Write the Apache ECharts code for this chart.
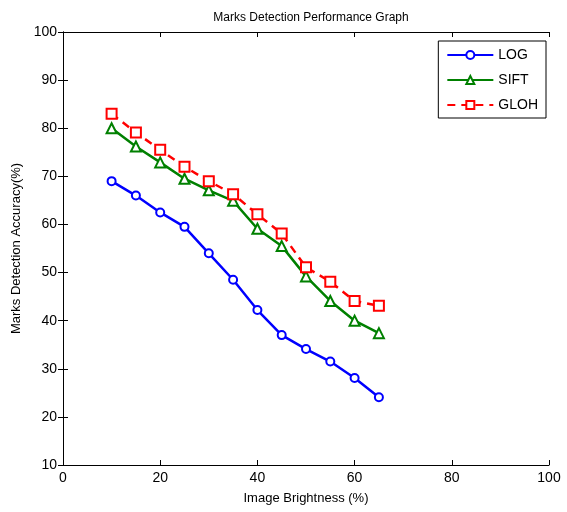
<!DOCTYPE html>
<html><head><meta charset="utf-8">
<script src="https://cdn.jsdelivr.net/npm/echarts@6/dist/echarts.min.js"></script>
<style>html,body{margin:0;padding:0;background:#fff}#c{width:567px;height:512px}</style>
</head><body><div id="c"></div>
<script>
const brightness = [10, 15, 20, 25, 30, 35, 40, 45, 50, 55, 60, 65];
const logVals  = [69, 66, 62.5, 59.5, 54, 48.5, 42.2, 37, 34.1, 31.5, 28.1, 24.1];
const siftVals = [80, 76.2, 72.9, 69.5, 67.1, 64.9, 59.1, 55.5, 49.2, 44.1, 40, 37.4];
const glohVals = [83, 79.1, 75.5, 72, 69, 66.3, 62.1, 58.1, 51.1, 48.1, 44.1, 43.1];
const xTicks = [0, 20, 40, 60, 80, 100];
const yTicks = [10, 20, 30, 40, 50, 60, 70, 80, 90, 100];

const font = 'Liberation Sans, Arial, sans-serif';
const pair = a => brightness.map((x, i) => [x, a[i]]);
const axisCommon = {
  axisLine: {show: true, lineStyle: {color: '#000', width: 1}},
  axisTick: {show: true, inside: true, length: 5, lineStyle: {color: '#000'}},
  splitLine: {show: false}
};
const chart = echarts.init(document.getElementById('c'));
chart.setOption({
  animation: false,
  backgroundColor: '#fff',
  title: {text: 'Marks Detection Performance Graph', left: 306, top: 7, textAlign: 'center',
    textStyle: {fontFamily: font, fontSize: 12, fontWeight: 'normal', color: '#000'}},
  grid: {left: 63, right: 18, top: 32, bottom: 47},
  legend: {
    orient: 'vertical', right: 21, top: 41, itemWidth: 46, itemHeight: 10, itemGap: 11,
    borderColor: '#000', borderWidth: 1, backgroundColor: '#fff', padding: [7, 8, 6, 8],
    textStyle: {fontFamily: font, fontSize: 14, color: '#000'},
    data: ['LOG', 'SIFT', 'GLOH']
  },
  xAxis: [
    Object.assign({type: 'value', min: 0, max: 100, interval: 20, position: 'bottom',
      name: 'Image Brightness (%)', nameLocation: 'middle', nameGap: 27,
      nameTextStyle: {fontFamily: font, fontSize: 13, color: '#000'},
      axisLabel: {fontFamily: font, fontSize: 14, color: '#000', margin: 6}}, axisCommon),
    Object.assign({type: 'value', min: 0, max: 100, interval: 20, position: 'top',
      axisLabel: {show: false}}, axisCommon)
  ],
  yAxis: [
    Object.assign({type: 'value', min: 10, max: 100, interval: 10, position: 'left',
      name: 'Marks Detection Accuracy(%)', nameLocation: 'middle', nameGap: 38,
      nameTextStyle: {fontFamily: font, fontSize: 13, color: '#000'},
      axisLabel: {fontFamily: font, fontSize: 14, color: '#000', margin: 6}}, axisCommon),
    Object.assign({type: 'value', min: 10, max: 100, interval: 10, position: 'right',
      axisLabel: {show: false}}, axisCommon)
  ],
  series: [
    {name: 'LOG', type: 'line', data: pair(logVals), symbol: 'emptyCircle', symbolSize: 8,
      color: '#0000ff', lineStyle: {width: 2.5, color: '#0000ff'}, itemStyle: {color: '#0000ff', borderWidth: 2}},
    {name: 'SIFT', type: 'line', data: pair(siftVals), symbol: 'emptyTriangle', symbolSize: 10,
      color: '#008000', lineStyle: {width: 2.5, color: '#008000'}, itemStyle: {color: '#008000', borderWidth: 2}},
    {name: 'GLOH', type: 'line', data: pair(glohVals), symbol: 'emptyRect', symbolSize: 10,
      color: '#ff0000', lineStyle: {width: 2.5, color: '#ff0000', type: [8, 6]}, itemStyle: {color: '#ff0000', borderWidth: 2}}
  ]
});
</script></body></html>
